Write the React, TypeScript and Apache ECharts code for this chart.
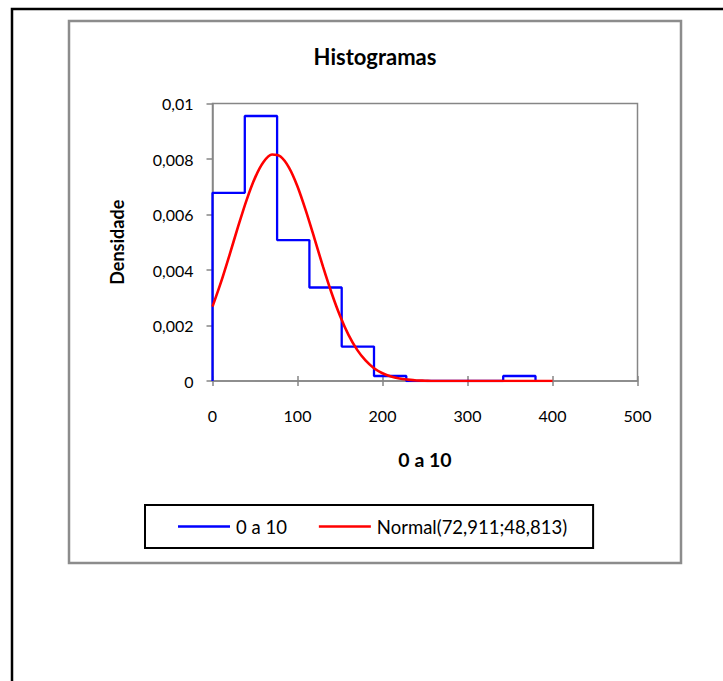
import { useEffect, useRef } from "react";
import * as echarts from "echarts";

// Histogram bins (class edges) and their densities
const binEdges = [0, 38, 76, 114, 152, 190, 228, 266, 304, 342, 380];
const binDensity = [0.00678, 0.00955, 0.00508, 0.00337, 0.00124, 0.00018, 0, 0, 0, 0.00018];

// Fitted normal curve, sampled along the x axis
const normalX = [
  0, 10, 20, 30, 40, 50, 60, 70, 80, 90, 100, 110, 120, 130, 140, 150, 160, 170, 180, 190,
  200, 210, 220, 230, 240, 250, 260, 280, 300, 320, 340, 360, 380, 400,
];
const normalY = [
  0.00268, 0.00356, 0.00454, 0.00555, 0.00651, 0.00732, 0.00789, 0.00816, 0.00809, 0.00769,
  0.00701, 0.00612, 0.00513, 0.00412, 0.00318, 0.00235, 0.00166, 0.00113, 0.00074, 0.00046,
  0.00028, 0.00016, 0.00009, 0.00005, 0.00002, 0.00001, 0, 0, 0, 0, 0, 0, 0, 0,
];

const yTickLabels = ["0", "0,002", "0,004", "0,006", "0,008", "0,01"];
const xTickLabels = ["0", "100", "200", "300", "400", "500"];

const histName = "0 a 10";
const normalName = "Normal(72,911;48,813)";
const chartTitle = "Histogramas";
const xTitle = "0 a 10";
const yTitle = "Densidade";

const FONT = "Lato, Carlito, Calibri, sans-serif";
const AXIS_GRAY = "#868686";

function histogramSteps(): number[][] {
  const pts: number[][] = [[binEdges[0], 0]];
  binDensity.forEach((d, i) => {
    pts.push([binEdges[i], d]);
    pts.push([binEdges[i + 1], d]);
  });
  pts.push([binEdges[binEdges.length - 1], 0]);
  return pts;
}

export default function App() {
  const ref = useRef<HTMLDivElement>(null);

  useEffect(() => {
    if (!ref.current) return;
    const chart = echarts.init(ref.current, undefined, { renderer: "svg" });
    chart.setOption({
      animation: false,
      backgroundColor: "#ffffff",
      textStyle: { fontFamily: FONT },
      graphic: [
        {
          type: "rect",
          z: -10,
          shape: { x: 12, y: 9, width: 780, height: 780 },
          style: { fill: "none", stroke: "#000000", lineWidth: 2.5 },
        },
        {
          type: "rect",
          z: -9,
          shape: { x: 69, y: 21, width: 612, height: 542 },
          style: { fill: "none", stroke: "#8c8c8c", lineWidth: 2.5 },
        },
        {
          type: "text",
          x: 375,
          y: 56,
          style: {
            text: chartTitle,
            textAlign: "center",
            textVerticalAlign: "middle",
            fontFamily: FONT,
            fontWeight: "bold",
            fontSize: 22,
            fill: "#000000",
          },
        },
      ],
      grid: {
        left: 212.5,
        top: 103.5,
        right: 85.5,
        bottom: 300,
        show: true,
        borderColor: AXIS_GRAY,
        borderWidth: 1.5,
        backgroundColor: "transparent",
      },
      legend: {
        left: 145,
        top: 505,
        padding: [12, 26, 12, 33],
        borderColor: "#000000",
        borderWidth: 2,
        icon: "rect",
        itemWidth: 52,
        itemHeight: 2.7,
        itemGap: 32,
        textStyle: { fontFamily: FONT, fontSize: 18.5, color: "#000000", padding: [0, 0, 0, 1] },
        data: [histName, normalName],
      },
      xAxis: [
        {
          type: "value",
          min: 0,
          max: 500,
          interval: 100,
          name: xTitle,
          nameLocation: "middle",
          nameGap: 68,
          nameTextStyle: { fontFamily: FONT, fontWeight: "bold", fontSize: 19.5, color: "#000000" },
          axisLine: { show: true, lineStyle: { color: AXIS_GRAY, width: 1.5 } },
          axisTick: { show: true, inside: false, length: 5, lineStyle: { color: AXIS_GRAY, width: 1.5 } },
          axisLabel: {
            margin: 26,
            fontFamily: FONT,
            fontSize: 16,
            color: "#000000",
            formatter: (v: number) => xTickLabels[Math.round(v / 100)] ?? "",
          },
          splitLine: { show: false },
        },
        {
          // upper half of the crossing ticks on the x axis
          type: "value",
          position: "bottom",
          min: 0,
          max: 500,
          interval: 100,
          axisLine: { show: false },
          axisTick: { show: true, inside: true, length: 5, lineStyle: { color: AXIS_GRAY, width: 1.5 } },
          axisLabel: { show: false },
          splitLine: { show: false },
        },
      ],
      yAxis: {
        type: "value",
        min: 0,
        max: 0.01,
        interval: 0.002,
        name: yTitle,
        nameLocation: "middle",
        nameGap: 87,
        nameTextStyle: { fontFamily: FONT, fontWeight: "bold", fontSize: 18, color: "#000000" },
        axisLine: { show: true, lineStyle: { color: AXIS_GRAY, width: 1.5 } },
        axisTick: { show: true, inside: false, length: 6, lineStyle: { color: AXIS_GRAY, width: 1.5 } },
        axisLabel: {
          margin: 19,
          fontFamily: FONT,
          fontSize: 16,
          color: "#000000",
          formatter: (v: number) => yTickLabels[Math.round(v / 0.002)] ?? "",
        },
        splitLine: { show: false },
      },
      series: [
        {
          name: histName,
          type: "line",
          xAxisIndex: 0,
          data: histogramSteps(),
          symbol: "none",
          lineStyle: { color: "#0000ff", width: 2.3 },
          itemStyle: { color: "#0000ff" },
          silent: true,
        },
        {
          name: normalName,
          type: "line",
          xAxisIndex: 0,
          data: normalX.map((x, i) => [x, normalY[i]]),
          symbol: "none",
          smooth: 0.3,
          lineStyle: { color: "#ff0000", width: 2.6 },
          itemStyle: { color: "#ff0000" },
          silent: true,
        },
      ],
    });
    return () => chart.dispose();
  }, []);

  return (
    <div
      ref={ref}
      style={{ position: "absolute", left: 0, top: 0, width: 723, height: 681, background: "#fff" }}
    />
  );
}
